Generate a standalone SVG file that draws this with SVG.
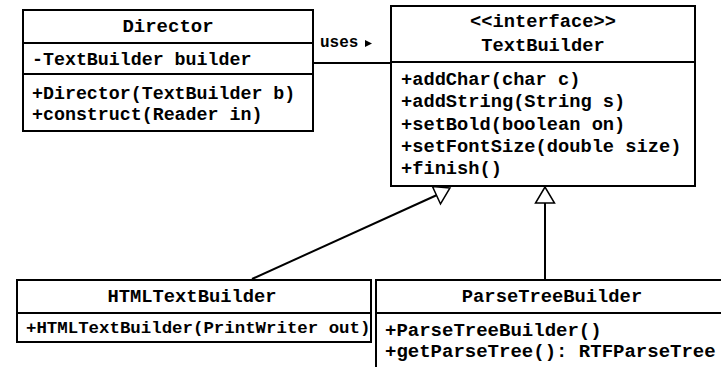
<svg xmlns="http://www.w3.org/2000/svg" width="721" height="367" viewBox="0 0 721 367">
<style>
.box{fill:#fff;stroke:#000;stroke-width:2}
.div{stroke:#000;stroke-width:2}
text{font-family:"Liberation Mono","Courier New",monospace;font-weight:bold;fill:#000}
.c{text-anchor:middle}
.conn{stroke:#000;stroke-width:2;fill:none}
.tri{fill:#fff;stroke:#000;stroke-width:1.5}
</style>
<rect width="721" height="367" fill="#fff"/>
<g id="connectors">
<line class="conn" x1="313" y1="63" x2="391" y2="63"/>
<text x="320" y="47" style="font-size:16px">uses</text>
<polygon points="365,40 372,43.5 365,47" fill="#000"/>
<line class="conn" x1="252" y1="279" x2="437" y2="195"/>
<polygon class="tri" points="450,188 432.5,186.5 440.5,204"/>
<line class="conn" x1="545" y1="280" x2="545" y2="203"/>
<polygon class="tri" points="545,187 535.5,203 554.5,203"/>
</g>
<g id="director">
<rect class="box" x="23" y="10" width="290" height="121"/>
<line class="div" x1="23" y1="43" x2="313" y2="43"/>
<line class="div" x1="23" y1="74" x2="313" y2="74"/>
<text class="c" x="168" y="32" style="font-size:19px">Director</text>
<text x="32" y="65" style="font-size:18.3px">-TextBuilder builder</text>
<text x="32" y="99" style="font-size:18.3px">+Director(TextBuilder b)</text>
<text x="32" y="120" style="font-size:18.3px">+construct(Reader in)</text>
</g>
<g id="textbuilder">
<rect class="box" x="391" y="6" width="304" height="180"/>
<line class="div" x1="391" y1="62" x2="695" y2="62"/>
<text class="c" x="543" y="27" style="font-size:18.7px">&lt;&lt;interface&gt;&gt;</text>
<text class="c" x="543" y="51" style="font-size:18.7px">TextBuilder</text>
<text x="401" y="85" style="font-size:18.7px">+addChar(char c)</text>
<text x="401" y="107" style="font-size:18.7px">+addString(String s)</text>
<text x="401" y="129.5" style="font-size:18.7px">+setBold(boolean on)</text>
<text x="401" y="152" style="font-size:18.7px">+setFontSize(double size)</text>
<text x="401" y="174" style="font-size:18.7px">+finish()</text>
</g>
<g id="htmltextbuilder">
<rect class="box" x="17" y="280" width="354" height="62"/>
<line class="div" x1="17" y1="313" x2="371" y2="313"/>
<text class="c" x="192" y="302" style="font-size:18.8px">HTMLTextBuilder</text>
<text x="26" y="333" style="font-size:17.4px">+HTMLTextBuilder(PrintWriter out)</text>
</g>
<g id="parsetreebuilder">
<rect class="box" x="376" y="280" width="352" height="100"/>
<line class="div" x1="376" y1="313" x2="728" y2="313"/>
<text class="c" x="552" y="302" style="font-size:18.8px">ParseTreeBuilder</text>
<text x="385" y="336" style="font-size:19px">+ParseTreeBuilder()</text>
<text x="385" y="357" style="font-size:19px">+getParseTree(): RTFParseTree</text>
</g>
</svg>
